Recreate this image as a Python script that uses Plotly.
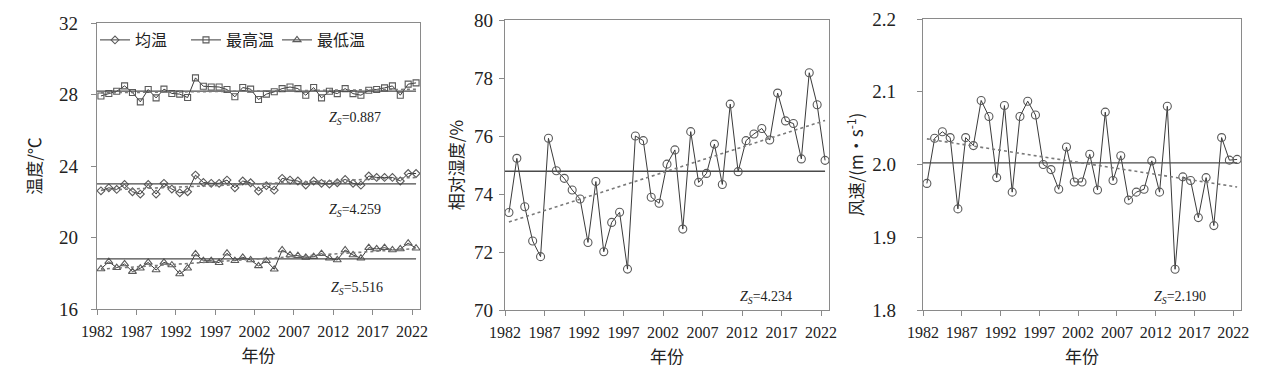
import numpy as np
import plotly.graph_objects as go

years = list(range(1982, 2023))

avg_temp = [22.61, 22.78, 22.69, 22.97, 22.56, 22.43, 22.97, 22.43, 23.03, 22.71,
            22.50, 22.56, 23.49, 23.08, 23.03, 23.03, 23.21, 22.78, 23.16, 23.06,
            22.60, 22.90, 22.65, 23.31, 23.21, 23.16, 22.94, 23.16, 23.03, 22.99,
            23.06, 23.25, 23.03, 22.93, 23.44, 23.36, 23.36, 23.36, 23.16, 23.58,
            23.58]
max_temp = [27.92, 28.06, 28.18, 28.48, 28.11, 27.59, 28.28, 27.81, 28.30, 28.06,
            28.02, 27.83, 28.93, 28.46, 28.42, 28.42, 28.28, 27.87, 28.39, 28.30,
            27.72, 28.02, 28.15, 28.33, 28.42, 28.33, 27.96, 28.39, 27.81, 28.18,
            28.05, 28.33, 28.05, 27.96, 28.24, 28.28, 28.37, 28.48, 27.96, 28.58,
            28.65]
min_temp = [18.24, 18.65, 18.31, 18.52, 18.09, 18.28, 18.61, 18.18, 18.61, 18.46,
            17.96, 18.28, 19.08, 18.70, 18.70, 18.59, 19.12, 18.70, 18.89, 18.74,
            18.41, 18.70, 18.22, 19.30, 19.02, 18.98, 18.89, 18.93, 19.10, 18.84,
            18.74, 19.30, 19.02, 18.84, 19.43, 19.36, 19.43, 19.30, 19.36, 19.68,
            19.40]
humidity = [73.36, 75.23, 73.56, 72.38, 71.84, 75.92, 74.80, 74.54, 74.14, 73.83,
            72.33, 74.43, 72.01, 73.02, 73.37, 71.41, 76.00, 75.84, 73.89, 73.68,
            75.03, 75.52, 72.79, 76.15, 74.40, 74.71, 75.72, 74.33, 77.10, 74.77,
            75.84, 76.07, 76.26, 75.86, 77.48, 76.52, 76.43, 75.21, 78.18, 77.08,
            75.16]
wind = [1.974, 2.036, 2.045, 2.037, 1.939, 2.037, 2.026, 2.088, 2.066, 1.982,
        2.081, 1.962, 2.066, 2.087, 2.068, 2.000, 1.993, 1.966, 2.024, 1.976,
        1.976, 2.014, 1.965, 2.072, 1.978, 2.012, 1.951, 1.962, 1.966, 2.005,
        1.962, 2.080, 1.856, 1.983, 1.978, 1.927, 1.982, 1.916, 2.037, 2.006,
        2.007]

legend_names = ["均温", "最高温", "最低温"]
zs_temp = ["0.887", "4.259", "5.516"]
zs_hum = "4.234"
zs_wind = "2.190"
tick_years = [1982, 1987, 1992, 1997, 2002, 2007, 2012, 2017, 2022]

LINE = "#3a3a3a"
MARK = "#5a5a5a"
AXC = "#8a8a8a"
SERIF = "Liberation Serif, Times New Roman, serif"
CJK = "Noto Sans CJK SC, sans-serif"

fig = go.Figure()


def add_series(y, xa, ya, symbol, name=None, show=False, size=7):
    x = np.array(years)
    yv = np.array(y)
    fig.add_trace(go.Scatter(
        x=x, y=yv, mode="lines+markers", name=name, showlegend=show,
        line=dict(color=LINE, width=1),
        marker=dict(symbol=symbol, size=size, color=MARK, line=dict(width=1.1, color=MARK)),
        xaxis=xa, yaxis=ya))
    m = yv.mean()
    fig.add_trace(go.Scatter(
        x=[x[0] - 0.5, x[-1]], y=[m, m], mode="lines", showlegend=False,
        line=dict(color="#4a4a4a", width=1.3), xaxis=xa, yaxis=ya, hoverinfo="skip"))
    k, b = np.polyfit(x, yv, 1)
    fig.add_trace(go.Scatter(
        x=[x[0], x[-1]], y=[k * x[0] + b, k * x[-1] + b], mode="lines", showlegend=False,
        line=dict(color="#7a7a7a", width=1.6, dash="dot"), xaxis=xa, yaxis=ya, hoverinfo="skip"))


add_series(avg_temp, "x", "y", "diamond-open", legend_names[0], True, 6)
add_series(max_temp, "x", "y", "square-open", legend_names[1], True, 6)
add_series(min_temp, "x", "y", "triangle-up-open", legend_names[2], True, 7)
add_series(humidity, "x2", "y2", "circle-open", None, False, 8)
add_series(wind, "x3", "y3", "circle-open", None, False, 8)

W, H = 1270, 376
OFF = 8  # page body margin


def xd(a, b):
    return [(a - OFF) / W, (b - OFF) / W]


def yd(top, bot):
    return [1 - (bot - OFF) / H, 1 - (top - OFF) / H]


def px_x(a):
    return (a - OFF) / W


def px_y(b):
    return 1 - (b - OFF) / H


tickvals = [t - 0.5 for t in tick_years]
xcommon = dict(range=[years[0] - 0.5, years[-1] + 0.5], tickmode="array", tickvals=tickvals,
               ticktext=[str(t) for t in tick_years], ticks="outside", ticklen=5, tickwidth=1,
               tickcolor=AXC, showline=True, linecolor=AXC, linewidth=1.3, mirror=True,
               showgrid=False, zeroline=False, tickfont=dict(family=SERIF, size=16, color="#222"),
               ticklabelstandoff=3, automargin=False, ticklabeloverflow="allow",
               title=dict(text="年份", font=dict(family=CJK, size=17, color="#222"), standoff=10))
ycommon = dict(ticks="outside", ticklen=5, tickwidth=1, tickcolor=AXC, showline=True,
               linecolor=AXC, linewidth=1.3, mirror=True, showgrid=False, zeroline=False,
               automargin=False, ticklabeloverflow="allow",
               tickfont=dict(family=SERIF, size=19, color="#222"))

fig.update_layout(
    width=W, height=H, margin=dict(l=0, r=0, t=0, b=0, autoexpand=False),
    paper_bgcolor="white", plot_bgcolor="white",
    xaxis=dict(domain=xd(97, 420), anchor="y", **xcommon),
    xaxis2=dict(domain=xd(505, 829), anchor="y2", **xcommon),
    xaxis3=dict(domain=xd(923, 1241), anchor="y3", **xcommon),
    yaxis=dict(domain=yd(23, 309), anchor="x", range=[16, 32], tickvals=[16, 20, 24, 28, 32],
               ticklabelstandoff=9,
               title=dict(text="温度/℃", font=dict(family=CJK, size=17, color="#222"), standoff=13),
               **ycommon),
    yaxis2=dict(domain=yd(20, 310), anchor="x2", range=[70, 80], tickvals=[70, 72, 74, 76, 78, 80],
                ticklabelstandoff=2,
                title=dict(text="相对湿度/%", font=dict(family=CJK, size=17, color="#222"), standoff=6),
                **ycommon),
    yaxis3=dict(domain=yd(19, 310), anchor="x3", range=[1.8, 2.2], tickvals=[1.8, 1.9, 2.0, 2.1, 2.2],
                tickformat=".1f", ticklabelstandoff=17,
                title=dict(text="风速/(m·s<sup>-1</sup>)", font=dict(family=CJK, size=17, color="#222"),
                           standoff=4),
                **ycommon),
    legend=dict(orientation="h", x=px_x(95), y=px_y(40), xanchor="left", yanchor="middle",
                font=dict(family=CJK, size=16, color="#222"), bgcolor="rgba(0,0,0,0)",
                tracegroupgap=0, entrywidth=46),
    showlegend=True,
)


def zs(val):
    return "<i>Z</i><sub><i>S</i></sub>=" + val


annots = []
for (px, py, val) in [(327, 118, zs_temp[0]), (327, 210, zs_temp[1]), (329, 288, zs_temp[2]),
                      (738, 297, zs_hum), (1152, 297, zs_wind)]:
    annots.append(dict(x=px_x(px), y=px_y(py), xref="paper", yref="paper", text=zs(val),
                       showarrow=False, font=dict(family=SERIF, size=14, color="#222"),
                       xanchor="left", yanchor="middle"))
fig.update_layout(annotations=annots)

fig.write_html("out.html")
